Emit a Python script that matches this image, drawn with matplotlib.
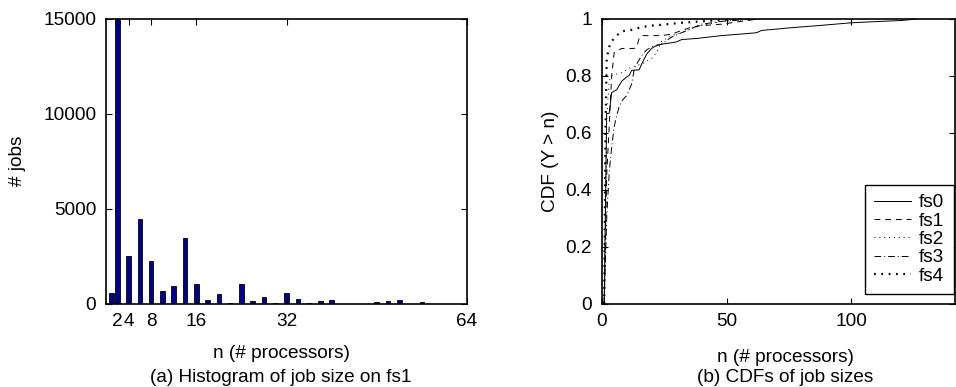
import matplotlib
matplotlib.use('Agg')
import matplotlib.pyplot as plt

plt.rcParams['font.family'] = ['Liberation Sans', 'DejaVu Sans']
plt.rcParams['font.size'] = 13.7

# (a) histogram of job size on fs1
hist_n = [1, 2, 4, 6, 8, 10, 12, 14, 16, 18, 20, 22, 24, 26, 28, 30, 32, 34, 36,
          38, 40, 42, 44, 46, 48, 50, 52, 54, 56, 58, 60, 62]
hist_jobs = [550, 17000, 2500, 4450, 2240, 670, 930, 3450, 1040, 180, 505, 20,
             1010, 140, 330, 20, 540, 245, 15, 135, 170, 0, 0, 0, 65, 145, 180,
             0, 65, 0, 0, 0]
hist_xticks = [2, 4, 8, 16, 32, 64]
hist_yticks = [0, 5000, 10000, 15000]

# (b) CDFs of job sizes
fs0_n = [1, 2, 3, 4, 6, 7, 8, 10, 11, 12, 15, 16, 18, 20, 22, 24, 28, 30, 32, 38,
         48, 62, 64, 75, 88, 100, 112, 120, 128, 142]
fs0_c = [0, 0.667, 0.667, 0.74, 0.75, 0.765, 0.78, 0.795, 0.80, 0.818, 0.82,
         0.84, 0.875, 0.895, 0.906, 0.91, 0.915, 0.918, 0.926, 0.93, 0.94, 0.95,
         0.958, 0.967, 0.976, 0.985, 0.99, 0.993, 1.0, 1.0]
fs1_n = [1, 2, 3, 4, 5, 8, 13, 14, 15, 16, 20, 24, 28, 32, 36, 40, 48, 56, 64]
fs1_c = [0, 0.45, 0.62, 0.80, 0.88, 0.895, 0.895, 0.90, 0.93, 0.94, 0.94, 0.94,
         0.945, 0.958, 0.97, 0.975, 0.98, 0.99, 1.0]
fs2_n = [1, 2, 3, 4, 8, 12, 16, 20, 22, 24, 28, 32, 36, 40, 48, 64]
fs2_c = [0, 0.65, 0.78, 0.80, 0.81, 0.83, 0.84, 0.86, 0.88, 0.92, 0.94, 0.95,
         0.965, 0.975, 0.99, 1.0]
fs3_n = [1, 2, 3, 4, 5, 6, 7, 8, 10, 12, 13, 14, 16, 18, 20, 24, 28, 32, 40, 48, 64]
fs3_c = [0, 0.30, 0.46, 0.55, 0.62, 0.66, 0.69, 0.71, 0.73, 0.77, 0.82, 0.84,
         0.87, 0.89, 0.90, 0.91, 0.935, 0.95, 0.98, 0.99, 1.0]
fs4_n = [1, 1.5, 2, 3, 4, 6, 8, 12, 16, 20, 24, 32, 40, 48, 56, 64]
fs4_c = [0, 0.6, 0.86, 0.90, 0.92, 0.94, 0.955, 0.96, 0.97, 0.975, 0.978, 0.985,
         0.99, 0.995, 0.998, 1.0]

W, H = 956, 387
fig = plt.figure(figsize=(W / 100, H / 100), dpi=100)

def box(l, t, r, b):
    return [l / W, 1 - b / H, (r - l) / W, (b - t) / H]

# left panel
ax1 = fig.add_axes(box(106, 18.5, 467, 303.5))
ax1.bar(hist_n, hist_jobs, width=0.8, color='#000088', edgecolor='black', linewidth=0.6)
ax1.set_xlim(0, 64)
ax1.set_ylim(0, 15000)
ax1.set_xticks(hist_xticks)
ax1.set_yticks(hist_yticks)
ax1.set_ylabel('# jobs')
ax1.yaxis.set_label_coords(-0.222, 0.5)

# right panel
ax2 = fig.add_axes(box(601.7, 18.5, 955, 303.5))
ax2.plot(fs0_n, fs0_c, color='black', linestyle='-', linewidth=0.7, label='fs0')
ax2.plot(fs1_n, fs1_c, color='black', linestyle=(0, (6, 5)), linewidth=0.7, label='fs1')
ax2.plot(fs2_n, fs2_c, color='black', linestyle=(0, (1, 4)), linewidth=0.7, label='fs2')
ax2.plot(fs3_n, fs3_c, color='black', linestyle=(0, (7, 3, 1, 3)), linewidth=0.7, label='fs3')
ax2.plot(fs4_n, fs4_c, color='black', linestyle=(0, (0.8, 2.5)), linewidth=1.6,
         dash_capstyle='butt', label='fs4')
ax2.set_xlim(0, 141.5)
ax2.set_ylim(0, 1)
ax2.set_xticks([0, 50, 100])
ax2.set_yticks([0, 0.2, 0.4, 0.6, 0.8, 1])
ax2.set_yticklabels(['0', '0.2', '0.4', '0.6', '0.8', '1'])
ax2.set_ylabel('CDF (Y > n)')
ax2.yaxis.set_label_coords(-0.122, 0.5)
leg = ax2.legend(loc='lower right', bbox_to_anchor=(0.997, 0.033), fancybox=False,
                 edgecolor='black', framealpha=1, handlelength=1.9,
                 handletextpad=0.45, labelspacing=0.05, borderpad=0.5,
                 borderaxespad=0.0)
leg.get_frame().set_linewidth(1.0)

for ax in (ax1, ax2):
    ax.tick_params(direction='in', top=True, right=True, length=4, width=0.8, pad=7)
    for s in ax.spines.values():
        s.set_linewidth(1.2)

fig.text(281 / W, 1 - 353 / H, 'n (# processors)', ha='center', va='center')
fig.text(281 / W, 1 - 377 / H, '(a) Histogram of job size on fs1', ha='center', va='center')
fig.text(785 / W, 1 - 357 / H, 'n (# processors)', ha='center', va='center')
fig.text(785 / W, 1 - 378 / H, '(b) CDFs of job sizes', ha='center', va='center')

fig.savefig('out.png', dpi=100)
